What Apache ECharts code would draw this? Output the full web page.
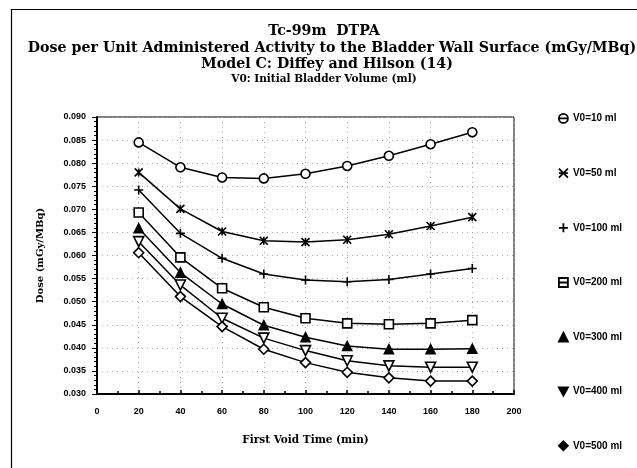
<!DOCTYPE html>
<html>
<head>
<meta charset="utf-8">
<script src="https://cdn.jsdelivr.net/npm/echarts@6/dist/echarts.min.js"></script>
<style>html,body{margin:0;padding:0;background:#fff}#c{width:637px;height:468px}</style>
</head>
<body>
<div id="c"></div>
<script>
const times = [20, 40, 60, 80, 100, 120, 140, 160, 180];
const seriesNames = ['V0=10 ml', 'V0=50 ml', 'V0=100 ml', 'V0=200 ml', 'V0=300 ml', 'V0=400 ml', 'V0=500 ml'];
const v10  = [0.0845, 0.0791, 0.0769, 0.0767, 0.0777, 0.0794, 0.0816, 0.0841, 0.0867];
const v50  = [0.0780, 0.0701, 0.0652, 0.0632, 0.0629, 0.0634, 0.0646, 0.0664, 0.0683];
const v100 = [0.0742, 0.0648, 0.0594, 0.0560, 0.0547, 0.0543, 0.0548, 0.0560, 0.0572];
const v200 = [0.0693, 0.0596, 0.0529, 0.0488, 0.0464, 0.0453, 0.0451, 0.0453, 0.0460];
const v300 = [0.0659, 0.0563, 0.0495, 0.0449, 0.0423, 0.0404, 0.0397, 0.0397, 0.0398];
const v400 = [0.0630, 0.0536, 0.0464, 0.0421, 0.0394, 0.0372, 0.0361, 0.0358, 0.0358];
const v500 = [0.0606, 0.0511, 0.0446, 0.0397, 0.0368, 0.0347, 0.0335, 0.0328, 0.0328];
const allValues = [v10, v50, v100, v200, v300, v400, v500];
const titleLines = [
  'Tc-99m  DTPA',
  'Dose per Unit Administered Activity to the Bladder Wall Surface (mGy/MBq)',
  'Model C: Diffey and Hilson (14)',
  'V0: Initial Bladder Volume (ml)'
];

const symbols = [
  'circle',
  'path://M0,0 L10,10 M10,0 L0,10 M5,0 L5,10',
  'path://M5,0 L5,10 M0,5 L10,5',
  'rect',
  'triangle',
  'path://M0,0 L10,0 L5,9 Z',
  'diamond'
];
const legendIcons = [
  'path://M0,5 A5,5 0 1,1 10,5 A5,5 0 1,1 0,5 Z M0,5 L10,5',
  'path://M0,0 L10,10 M10,0 L0,10 M0,5 L10,5',
  'path://M5,0 L5,10 M0,5 L10,5',
  'path://M0,0 L10,0 L10,10 L0,10 Z M0,5 L10,5',
  'triangle',
  'path://M0,0 L10,0 L5,9 Z',
  'diamond'
];
const legendFills = ['#fff', '#000', '#000', '#fff', '#000', '#000', '#000'];
const fills = ['#fff', '#000', '#000', '#fff', '#000', '#fff', '#fff'];
const sizes = [9, 8, 9, 9, 9, 10, 10];

const chart = echarts.init(document.getElementById('c'), null, {renderer: 'canvas'});
const serif = '"DejaVu Serif", "Liberation Serif", serif';
const sans = '"Liberation Sans", Arial, sans-serif';

const series = seriesNames.map((n, i) => ({
  name: n,
  type: 'line',
  data: times.map((t, j) => [t, allValues[i][j]]),
  symbol: symbols[i],
  symbolSize: sizes[i],
  showAllSymbol: true,
  lineStyle: {color: '#000', width: 1.5},
  itemStyle: {color: fills[i], borderColor: '#000', borderWidth: 1.6},
  emphasis: {disabled: true},
  z: 3
}));

const titleX = [324, 332, 327, 324];
const titleY = [31, 48, 64, 79];
const titleSize = [14.2, 14.2, 14.2, 10.5];
const titleGraphics = titleLines.map((t, i) => ({
  type: 'text', x: titleX[i], y: titleY[i], silent: true,
  style: {text: t, fill: '#000', font: 'bold ' + titleSize[i] + 'px ' + serif, textAlign: 'center', textVerticalAlign: 'middle'}
}));

chart.setOption({
  animation: false,
  backgroundColor: '#fff',
  graphic: [{
    type: 'rect', shape: {x: 11.5, y: 9.5, width: 640, height: 470},
    style: {fill: 'none', stroke: '#000', lineWidth: 1.2}, silent: true, z: 0
  }].concat(titleGraphics),
  legend: {
    orient: 'vertical',
    left: 553,
    top: 108,
    height: 360,
    itemWidth: 9,
    itemHeight: 9,
    itemGap: 43.9,
    data: seriesNames.map((n, i) => ({name: n, icon: legendIcons[i], itemStyle: {color: legendFills[i], borderColor: '#000', borderWidth: 1.8}})),
    textStyle: {fontFamily: sans, fontWeight: 'bold', fontSize: 10, color: '#000', lineHeight: 9},
    selectedMode: false
  },
  grid: {left: 97, right: 123, top: 117, bottom: 74, show: true, borderColor: '#000', borderWidth: 1},
  xAxis: {
    type: 'value', min: 0, max: 200, interval: 20,
    name: 'First Void Time (min)', nameLocation: 'middle', nameGap: 41,
    nameTextStyle: {fontFamily: serif, fontWeight: 'bold', fontSize: 10.5, color: '#000'},
    axisLine: {show: true, lineStyle: {color: '#000', width: 2}},
    axisTick: {show: true, inside: true, length: 4, lineStyle: {color: '#000', width: 1.5}},
    minorTick: {show: true, splitNumber: 2, length: 3, lineStyle: {color: '#000', width: 1.5}},
    axisLabel: {fontFamily: sans, fontWeight: 'bold', fontSize: 9, color: '#000', margin: 13},
    splitLine: {show: true, lineStyle: {color: '#aaa', type: [1, 4], width: 1}}
  },
  yAxis: {
    type: 'value', min: 0.03, max: 0.09, interval: 0.005,
    name: 'Dose (mGy/MBq)', nameLocation: 'middle', nameGap: 52,
    nameTextStyle: {fontFamily: serif, fontWeight: 'bold', fontSize: 10, color: '#000'},
    axisLine: {show: true, lineStyle: {color: '#000', width: 2}},
    axisTick: {show: true, inside: false, length: 5, lineStyle: {color: '#000', width: 1}},
    minorTick: {show: true, splitNumber: 5, length: 3, lineStyle: {color: '#000', width: 1}},
    axisLabel: {fontFamily: sans, fontWeight: 'bold', fontSize: 9, color: '#000', margin: 11, formatter: v => v.toFixed(3)},
    splitLine: {show: true, lineStyle: {color: '#aaa', type: [1, 4], width: 1}}
  },
  series: series
});
</script>
</body>
</html>
